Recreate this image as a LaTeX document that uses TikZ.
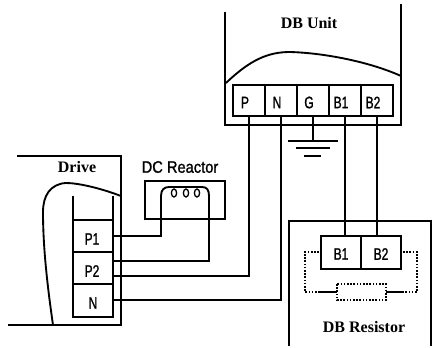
\documentclass[tikz,border=0pt]{standalone}
\usepackage{fontspec}
\setmainfont{Liberation Serif}
\newfontfamily\gothic[FakeStretch=0.72,FakeBold=1.2]{Liberation Sans}
\newfontfamily\gothicwide[FakeStretch=0.88,FakeBold=1.2]{Liberation Sans}
\tikzset{
  wire/.style={line width=1.4pt,line join=miter},
  title/.style={font=\bfseries\fontsize{12}{14}\selectfont,inner sep=0pt},
  term/.style={font=\gothic\fontsize{12.5}{14}\selectfont,inner sep=0pt},
  dots/.style={line width=1pt,dash pattern=on 1.2pt off 1.2pt},
}
\begin{document}
\begin{tikzpicture}[x=0.75pt,y=-0.75pt]
\useasboundingbox (0,0) rectangle (434,348);
% DB Unit
\coordinate (uTL) at (225,12);
\coordinate (uTR) at (401,4);
\draw[wire] (uTL) -- (225,125) -- (401,125) -- (uTR);
\draw[wire] (226,83) .. controls (250,60) and (268,52) .. (290,52) .. controls (325,53) and (370,62) .. (401,76);
\node[title] (dbunit) at (309,23) {DB Unit};
\draw[wire] (233,85) rectangle (393,116);
\foreach \x in {265,297,329,361} \draw[wire] (\x,85) -- (\x,116);
\node[term] (uP) at (245,102.5) {P};
\node[term] (uN) at (277,102.5) {N};
\node[term] (uG) at (309,102.5) {G};
\node[term] (uB1) at (341,102.5) {B1};
\node[term] (uB2) at (373,102.5) {B2};
% ground
\coordinate (gnd) at (313,141);
\draw[wire] (313,116) -- (gnd);
\draw[wire] (288,141) -- (338,141);
\draw[wire] (296,148) -- (330,148);
\draw[wire] (304,156) -- (321,156);
% Drive
\draw[wire] (17,156) -- (121,156) -- (121,325) -- (8,325);
\draw[wire] (121,196) .. controls (100,188) and (78,183) .. (66,183) .. controls (50,184) and (43,196) .. (43,212) .. controls (43,250) and (48,290) .. (53,325);
\node[title] (drive) at (77,167) {Drive};
\draw[wire] (73,196) -- (73,317) -- (113,317) -- (113,196);
\foreach \y in {220,252,284} \draw[wire] (73,\y) -- (113,\y);
\node[term] (dP1) at (92,239) {P1};
\node[term] (dP2) at (92,271) {P2};
\node[term] (dN) at (93,303) {N};
% Reactor
\node[term,font=\gothicwide\fontsize{12.5}{14}\selectfont] (dcr) at (180,167) {DC Reactor};
\draw[wire] (145,181) rectangle (225,219);
\draw[wire] (113,236) -- (161,236) -- (161,196) .. controls (161,190) and (164,187) .. (169,187) -- (202,187) .. controls (207,187) and (209,190) .. (209,196) -- (209,261) -- (113,261);
\foreach \x in {174,186,197} \draw[line width=1pt] (\x,193) ellipse (2.6 and 4);
% wires to DB unit
\draw[wire] (113,276) -- (249,276) -- (249,116);
\draw[wire] (113,300) -- (281,300) -- (281,116);
% Resistor
\draw[wire] (345,116) -- (345,236);
\draw[wire] (377,116) -- (377,236);
\draw[wire] (289,346) -- (289,221) -- (431,221) -- (431,346);
\draw[wire] (321,236) rectangle (401,269);
\draw[wire] (361,236) -- (361,269);
\node[term] (rB1) at (341,254) {B1};
\node[term] (rB2) at (381,254) {B2};
\draw[dots] (319,252) -- (305,252) -- (305,292) -- (320,292);
\draw[dots] (403,252) -- (417,252) -- (417,292) -- (402,292);
\draw[wire] (320,292) -- (337,292);
\draw[wire] (386,292) -- (402,292);
\draw[dots] (337,284) rectangle (386,300);
\node[title] (dbres) at (364,327) {DB Resistor};
\end{tikzpicture}
\end{document}
